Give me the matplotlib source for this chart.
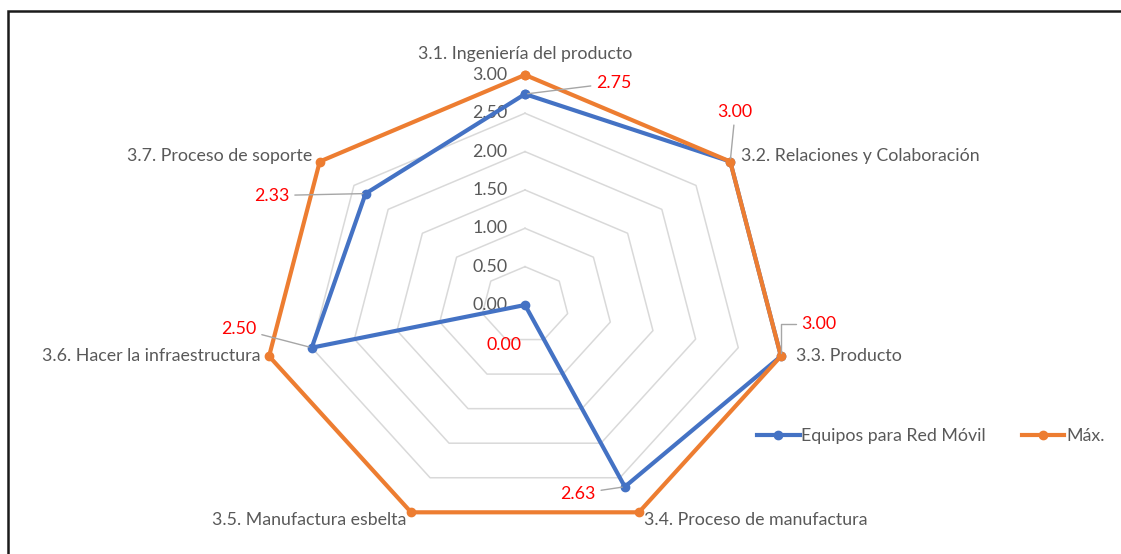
import numpy as np
import matplotlib
matplotlib.use("Agg")
import matplotlib.pyplot as plt
from matplotlib.patches import Rectangle

categories = [
    "3.1. Ingeniería del producto",
    "3.2. Relaciones y Colaboración",
    "3.3. Producto",
    "3.4. Proceso de manufactura",
    "3.5. Manufactura esbelta",
    "3.6. Hacer la infraestructura",
    "3.7. Proceso de soporte",
]
equipos = [2.75, 3.00, 3.00, 2.63, 0.00, 2.50, 2.33]
maximo = [3.00, 3.00, 3.00, 3.00, 3.00, 3.00, 3.00]
ticks = [0.0, 0.5, 1.0, 1.5, 2.0, 2.5, 3.0]
series_names = ["Equipos para Red Móvil", "Máx."]

BLUE = "#4472C4"
ORANGE = "#ED7D31"
GREY_TXT = "#595959"
GRID = "#d9d9d9"
RED = "#FF0000"
FS = 12.8

plt.rcParams["font.family"] = ["Lato", "DejaVu Sans"]

W, H = 1121, 554
fig = plt.figure(figsize=(W / 100, H / 100), dpi=100)
ax = fig.add_axes([0, 0, 1, 1])
ax.axis("off")

# pixel geometry of the radar (stretched horizontally like Excel output)
cx, cy = 525, 305
sx, sy = 87.5, 76.7
ax.set_xlim(-cx / sx, (W - cx) / sx)
ax.set_ylim(-(H - cy) / sy, cy / sy)

n = len(categories)
theta = np.arange(n) * 2 * np.pi / n


def to_xy(vals):
    v = np.asarray(vals, dtype=float)
    return v * np.sin(theta), v * np.cos(theta)


def closed(a):
    return np.append(a, a[0])


# heptagon gridlines
for t in ticks[1:]:
    gx, gy = to_xy([t] * n)
    ax.plot(closed(gx), closed(gy), color=GRID, lw=1.1, zorder=1)

# tick labels along the top axis
for t in ticks:
    ax.text(-0.2, t, f"{t:.2f}", ha="right", va="center", fontsize=FS,
            color=GREY_TXT, zorder=2)

# series
bx, by = to_xy(equipos)
ox, oy = to_xy(maximo)
ax.plot(closed(bx), closed(by), color=BLUE, lw=3.0, marker="o", ms=6,
        zorder=3, label=series_names[0])
ax.plot(closed(ox), closed(oy), color=ORANGE, lw=3.0, marker="o", ms=6,
        zorder=4, label=series_names[1])

# category labels
lab_pos = [
    (0, 0.27, "center", "center"),
    (0.126, 0.078, "left", "center"),
    (0.17, 0.0, "left", "center"),
    (0.057, -0.104, "left", "center"),
    (-0.057, -0.104, "right", "center"),
    (-0.1, 0.0, "right", "center"),
    (-0.09, 0.078, "right", "center"),
]
for i, (name, (dx, dy, ha, va)) in enumerate(zip(categories, lab_pos)):
    ax.text(ox[i] + dx, oy[i] + dy, name, ha=ha, va=va, fontsize=FS,
            color=GREY_TXT, zorder=5)

# data labels for the blue series (offsets in pixels)
offsets = [(89, 11), (5, 50), (38, 32), (-47, -7), (-21, -40), (-73, 19), (-94, -2)]
conn = ["arc3", "arc3", "angle,angleA=0,angleB=90,rad=0", "arc3", None, "arc3", "arc3"]
for i, v in enumerate(equipos):
    arrow = None
    if conn[i] is not None:
        arrow = dict(arrowstyle="-", color="#a6a6a6", lw=1.0,
                     connectionstyle=conn[i], shrinkA=2, shrinkB=2)
    ax.annotate(f"{v:.2f}", xy=(bx[i], by[i]), xytext=offsets[i],
                textcoords="offset pixels", ha="center", va="center",
                fontsize=FS, color=RED, arrowprops=arrow, zorder=6)

leg = ax.legend(loc="center left", bbox_to_anchor=(757 / W, 1 - 436 / H),
                ncol=2, frameon=False, fontsize=FS, handlelength=2.4,
                handletextpad=0.1, columnspacing=2.0, borderaxespad=0,
                borderpad=0)
for txt in leg.get_texts():
    txt.set_color(GREY_TXT)

# outer frame (partially cut off at right and bottom)
fig.patches.append(Rectangle((8 / W, -0.1), 1.2, 1 - 11 / H + 0.1,
                             transform=fig.transFigure, fill=False,
                             edgecolor="#1a1a1a", lw=1.8))

fig.savefig("out.png", dpi=100, facecolor="white")
